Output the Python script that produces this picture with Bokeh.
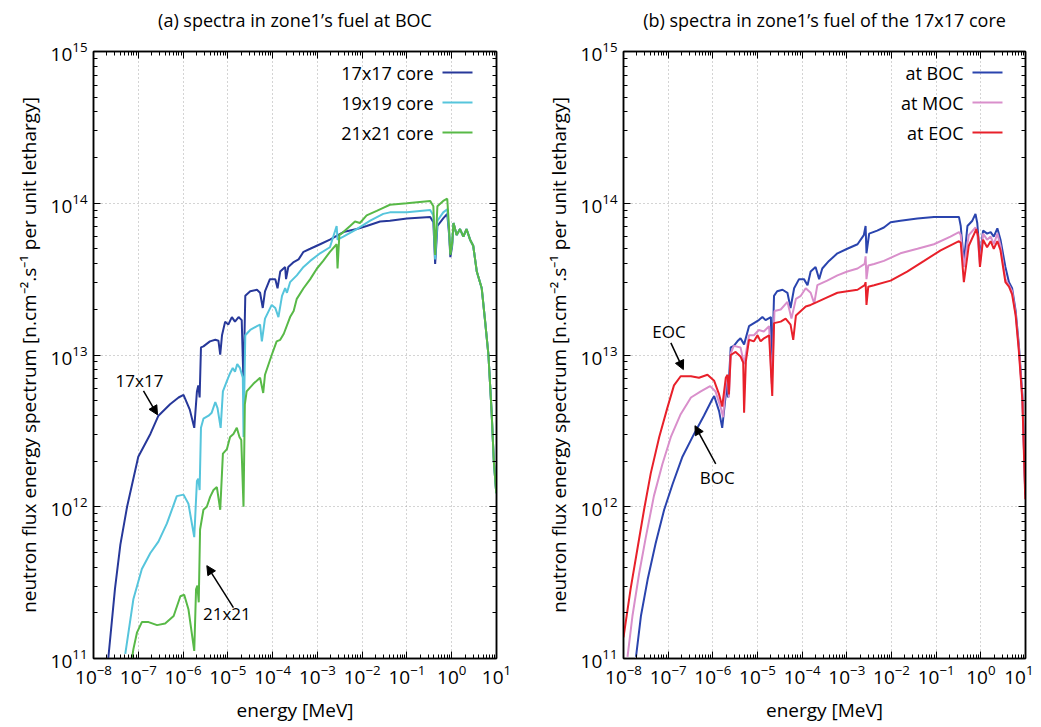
import numpy as np
from bokeh.plotting import figure
from bokeh.layouts import row
from bokeh.models import (Range1d, FixedTicker, LogAxis, LogTickFormatter,
                          CustomJSTickFormatter, Label, Arrow, NormalHead)
from bokeh.embed import file_html
from bokeh.resources import INLINE

# ---- data: (log10 energy [MeV], log10 flux) ----
core17_pts = [(-7.67, 11.00), (-7.52, 11.46), (-7.40, 11.75), (-7.25, 12.00), (-7.00, 12.33),
              (-6.73, 12.48), (-6.55, 12.60), (-6.29, 12.675), (-6.10, 12.72), (-5.99, 12.737),
              (-5.85, 12.64), (-5.75, 12.52), (-5.69, 12.76), (-5.66, 12.80), (-5.63, 12.72),
              (-5.60, 13.05), (-5.545, 13.057), (-5.40, 13.09), (-5.28, 13.10), (-5.21, 13.094),
              (-5.17, 13.002), (-5.13, 13.13), (-5.06, 13.22), (-4.99, 13.20), (-4.91, 13.25),
              (-4.84, 13.22), (-4.76, 13.25), (-4.69, 13.23), (-4.65, 12.81), (-4.61, 13.39),
              (-4.50, 13.42), (-4.35, 13.43), (-4.28, 13.41), (-4.22, 13.31), (-4.17, 13.42),
              (-4.06, 13.50), (-3.94, 13.50), (-3.89, 13.44), (-3.83, 13.55), (-3.72, 13.58),
              (-3.70, 13.50), (-3.65, 13.58), (-3.54, 13.61), (-3.42, 13.63), (-3.31, 13.68),
              (-3.16, 13.70), (-2.94, 13.73), (-2.72, 13.76), (-2.42, 13.81), (-2.12, 13.83),
              (-1.90, 13.85), (-1.60, 13.88), (-1.38, 13.885), (-1.00, 13.90), (-0.48, 13.91),
              (-0.41, 13.875), (-0.37, 13.60), (-0.32, 13.85), (-0.19, 13.90), (-0.10, 13.93),
              (-0.06, 13.80), (-0.03, 13.645), (0.01, 13.72)]

core19_pts = [(-7.29, 11.03), (-7.11, 11.39), (-6.92, 11.59), (-6.73, 11.695), (-6.55, 11.77),
              (-6.36, 11.89), (-6.14, 12.07), (-5.99, 12.08), (-5.88, 12.02), (-5.75, 11.80),
              (-5.69, 12.17), (-5.66, 12.185), (-5.63, 12.11), (-5.60, 12.52), (-5.545, 12.58),
              (-5.43, 12.60), (-5.36, 12.62), (-5.28, 12.69), (-5.23, 12.65), (-5.16, 12.52),
              (-5.11, 12.76), (-5.02, 12.83), (-4.95, 12.88), (-4.89, 12.915), (-4.84, 12.89),
              (-4.79, 12.94), (-4.73, 12.915), (-4.665, 12.85), (-4.65, 12.46), (-4.61, 13.13),
              (-4.50, 13.165), (-4.35, 13.19), (-4.28, 13.20), (-4.24, 13.09), (-4.17, 13.24),
              (-4.02, 13.33), (-3.94, 13.31), (-3.87, 13.25), (-3.79, 13.39), (-3.72, 13.44),
              (-3.68, 13.41), (-3.61, 13.48), (-3.46, 13.525), (-3.31, 13.58), (-3.16, 13.62),
              (-2.94, 13.67), (-2.72, 13.71), (-2.57, 13.85), (-2.55, 13.76), (-2.42, 13.78),
              (-2.12, 13.83), (-1.82, 13.885), (-1.53, 13.93), (-1.38, 13.94), (-1.00, 13.94),
              (-0.48, 13.956), (-0.41, 13.92), (-0.37, 13.63), (-0.32, 13.885), (-0.19, 13.94),
              (-0.10, 13.96), (-0.06, 13.82), (-0.03, 13.67), (0.01, 13.73)]

core21_pts = [(-7.14, 11.00), (-7.11, 11.06), (-7.03, 11.17), (-6.92, 11.24), (-6.77, 11.24),
              (-6.58, 11.22), (-6.40, 11.23), (-6.21, 11.28), (-6.06, 11.41), (-5.975, 11.42),
              (-5.88, 11.325), (-5.75, 11.05), (-5.71, 11.455), (-5.68, 11.48), (-5.65, 11.37),
              (-5.62, 11.85), (-5.545, 11.98), (-5.47, 12.00), (-5.395, 12.065), (-5.32, 12.11),
              (-5.245, 12.13), (-5.17, 11.98), (-5.11, 12.35), (-5.02, 12.38), (-4.95, 12.46),
              (-4.875, 12.48), (-4.80, 12.52), (-4.74, 12.46), (-4.70, 12.44), (-4.65, 12.00),
              (-4.62, 12.675), (-4.58, 12.76), (-4.43, 12.81), (-4.28, 12.85), (-4.21, 12.75),
              (-4.17, 12.87), (-4.02, 13.00), (-3.91, 13.09), (-3.83, 13.10), (-3.75, 13.14),
              (-3.61, 13.25), (-3.53, 13.29), (-3.46, 13.37), (-3.31, 13.44), (-3.16, 13.50),
              (-3.01, 13.57), (-2.87, 13.62), (-2.72, 13.68), (-2.57, 13.73), (-2.55, 13.57),
              (-2.51, 13.79), (-2.42, 13.81), (-2.27, 13.85), (-2.16, 13.88), (-2.05, 13.87),
              (-1.90, 13.92), (-1.675, 13.95), (-1.53, 13.97), (-1.38, 13.99), (-1.00, 14.00),
              (-0.48, 14.015), (-0.41, 13.98), (-0.37, 13.66), (-0.32, 13.98), (-0.19, 14.015),
              (-0.10, 14.03), (-0.06, 13.84), (-0.03, 13.66), (0.01, 13.74)]

fast_tail_a_pts = [(0.04, 13.87), (0.11, 13.79), (0.185, 13.83), (0.26, 13.78), (0.33, 13.83),
                   (0.41, 13.76), (0.48, 13.72), (0.56, 13.55), (0.67, 13.44), (0.74, 13.24),
                   (0.82, 13.00), (0.89, 12.63), (0.94, 12.30), (0.995, 12.09)]

boc_pts = [(-7.72, 11.01), (-7.61, 11.28), (-7.46, 11.52), (-7.28, 11.76), (-7.09, 11.98),
           (-6.90, 12.15), (-6.68, 12.33), (-6.42, 12.48), (-6.20, 12.60), (-6.01, 12.71),
           (-5.97, 12.73), (-5.86, 12.63), (-5.79, 12.52), (-5.71, 12.74), (-5.69, 12.85),
           (-5.66, 12.72), (-5.60, 13.05), (-5.53, 13.06), (-5.45, 13.09), (-5.38, 13.11),
           (-5.30, 13.07), (-5.19, 13.19), (-5.08, 13.21), (-4.97, 13.23), (-4.89, 13.25),
           (-4.82, 13.23), (-4.70, 13.25), (-4.68, 12.85), (-4.63, 13.39), (-4.56, 13.42),
           (-4.44, 13.43), (-4.33, 13.41), (-4.26, 13.31), (-4.18, 13.44), (-4.07, 13.50),
           (-3.96, 13.50), (-3.88, 13.46), (-3.81, 13.55), (-3.70, 13.58), (-3.62, 13.50),
           (-3.55, 13.57), (-3.40, 13.62), (-3.21, 13.67), (-2.99, 13.70), (-2.76, 13.73),
           (-2.62, 13.79), (-2.58, 13.85), (-2.56, 13.67), (-2.50, 13.80), (-2.32, 13.82),
           (-2.17, 13.84), (-2.02, 13.875), (-1.80, 13.885), (-1.42, 13.90), (-1.05, 13.91),
           (-0.49, 13.91), (-0.45, 13.85), (-0.38, 13.61), (-0.30, 13.85), (-0.19, 13.885),
           (-0.12, 13.93), (-0.08, 13.87), (-0.02, 13.645), (0.05, 13.82), (0.14, 13.80),
           (0.22, 13.81), (0.29, 13.78), (0.37, 13.835), (0.44, 13.76), (0.55, 13.58),
           (0.63, 13.48), (0.70, 13.44), (0.78, 13.29), (0.85, 13.07), (0.93, 12.74),
           (0.995, 12.08)]

moc_pts = [(-7.91, 11.01), (-7.80, 11.28), (-7.65, 11.56), (-7.50, 11.80), (-7.32, 12.07),
           (-7.13, 12.28), (-6.94, 12.46), (-6.72, 12.61), (-6.49, 12.72), (-6.27, 12.76),
           (-6.06, 12.795), (-5.94, 12.76), (-5.82, 12.65), (-5.77, 12.59), (-5.71, 12.81),
           (-5.67, 12.86), (-5.64, 12.72), (-5.60, 13.01), (-5.53, 13.06), (-5.38, 13.05),
           (-5.30, 12.94), (-5.19, 13.13), (-5.08, 13.13), (-4.97, 13.165), (-4.86, 13.155),
           (-4.74, 13.19), (-4.68, 12.81), (-4.62, 13.29), (-4.48, 13.30), (-4.33, 13.35),
           (-4.24, 13.24), (-4.14, 13.37), (-4.03, 13.39), (-3.92, 13.44), (-3.81, 13.41),
           (-3.73, 13.34), (-3.66, 13.46), (-3.44, 13.49), (-3.21, 13.525), (-2.99, 13.55),
           (-2.76, 13.57), (-2.60, 13.60), (-2.58, 13.65), (-2.56, 13.50), (-2.52, 13.59),
           (-2.39, 13.60), (-2.17, 13.62), (-1.80, 13.67), (-1.42, 13.70), (-1.05, 13.73),
           (-0.68, 13.78), (-0.49, 13.81), (-0.45, 13.79), (-0.38, 13.58), (-0.27, 13.79),
           (-0.12, 13.84), (-0.08, 13.80), (-0.02, 13.60), (0.05, 13.80), (0.14, 13.76),
           (0.22, 13.78), (0.29, 13.73), (0.37, 13.80), (0.44, 13.72), (0.55, 13.50),
           (0.63, 13.46), (0.70, 13.42), (0.78, 13.27), (0.85, 13.05), (0.93, 12.72),
           (0.995, 12.10)]

eoc_pts = [(-8.00, 11.14), (-7.84, 11.46), (-7.69, 11.72), (-7.54, 11.98), (-7.39, 12.22),
           (-7.20, 12.46), (-7.02, 12.65), (-6.87, 12.80), (-6.72, 12.86), (-6.49, 12.86),
           (-6.31, 12.85), (-6.12, 12.87), (-5.97, 12.83), (-5.86, 12.74), (-5.79, 12.66),
           (-5.71, 12.85), (-5.67, 12.87), (-5.64, 12.74), (-5.60, 13.00), (-5.49, 13.02),
           (-5.38, 12.99), (-5.32, 12.95), (-5.30, 12.62), (-5.26, 12.96), (-5.19, 13.10),
           (-5.08, 13.09), (-5.00, 13.13), (-4.93, 13.09), (-4.855, 13.11), (-4.74, 13.13),
           (-4.67, 12.73), (-4.63, 13.21), (-4.48, 13.22), (-4.37, 13.24), (-4.26, 13.20),
           (-4.20, 13.10), (-4.14, 13.26), (-4.03, 13.29), (-3.92, 13.32), (-3.81, 13.33),
           (-3.66, 13.35), (-3.44, 13.38), (-3.21, 13.41), (-2.99, 13.42), (-2.76, 13.43),
           (-2.60, 13.46), (-2.58, 13.48), (-2.56, 13.33), (-2.52, 13.45), (-2.39, 13.46),
           (-2.02, 13.49), (-1.65, 13.55), (-1.27, 13.62), (-0.90, 13.69), (-0.49, 13.75),
           (-0.45, 13.74), (-0.38, 13.48), (-0.27, 13.72), (-0.10, 13.83), (-0.06, 13.78),
           (-0.02, 13.58), (0.05, 13.76), (0.14, 13.71), (0.22, 13.75), (0.29, 13.70),
           (0.37, 13.75), (0.44, 13.69), (0.55, 13.48), (0.63, 13.45), (0.70, 13.40),
           (0.78, 13.26), (0.85, 13.03), (0.93, 12.70), (0.995, 12.05)]

panel_a_labels = ["17x17 core", "19x19 core", "21x21 core"]
panel_b_labels = ["at BOC", "at MOC", "at EOC"]
panel_a_colors = ["#27389a", "#56c5dc", "#58b947"]
panel_b_colors = ["#2a44ae", "#d98fcb", "#e8202a"]

# annotation text & arrows (log10 coords): text, text pos, arrow tail, arrow head
panel_a_notes = [("17x17", (-6.973, 12.832), (-6.884, 12.763), (-6.571, 12.606)),
                 ("21x21", (-5.022, 11.294), (-4.875, 11.335), (-5.469, 11.612))]
panel_b_notes = [("EOC", (-6.98, 13.155), (-6.94, 13.08), (-6.66, 12.904)),
                 ("BOC", (-5.90, 12.196), (-5.935, 12.283), (-6.40, 12.534))]

FONT = "Open Sans"
x_major = [10.0 ** k for k in range(-8, 2)]
x_minor = [m * 10.0 ** k for k in range(-8, 1) for m in range(2, 10)]
y_major = [10.0 ** k for k in range(11, 16)]
y_minor = [m * 10.0 ** k for k in range(11, 15) for m in range(2, 10)]

FRAME_H = 612  # plot-area height in px


def to_xy(pts):
    arr = np.array(pts)
    return 10.0 ** arr[:, 0], 10.0 ** arr[:, 1]


def style_axis(ax, labels=True):
    ax.axis_line_color = "black"
    ax.axis_line_width = 1.5
    ax.major_tick_in = 7
    ax.major_tick_out = 0
    ax.minor_tick_in = 4
    ax.minor_tick_out = 0
    ax.major_tick_line_color = "black"
    ax.minor_tick_line_color = "black"
    ax.major_label_text_font = FONT
    ax.major_label_text_font_size = "19px"
    ax.major_label_text_color = "black"
    ax.major_label_standoff = 6
    if not labels:
        ax.formatter = CustomJSTickFormatter(code="return ''")
        ax.major_label_text_font_size = "0px"
        ax.major_label_standoff = 0


def make_panel(title, series, labels, colors, notes, width, bl, br):
    p = figure(width=width, height=725, x_axis_type="log", y_axis_type="log",
               x_range=Range1d(1e-8, 10), y_range=Range1d(1e11, 1e15),
               output_backend="svg", toolbar_location=None,
               min_border_left=bl, min_border_right=br,
               min_border_top=51, min_border_bottom=62,
               background_fill_color="white", border_fill_color="white")
    p.outline_line_color = "black"
    p.outline_line_width = 1.5

    xt = FixedTicker(ticks=x_major, minor_ticks=x_minor)
    yt = FixedTicker(ticks=y_major, minor_ticks=y_minor)
    p.xaxis.ticker = xt
    p.yaxis.ticker = yt
    p.xaxis.formatter = LogTickFormatter()
    p.yaxis.formatter = LogTickFormatter()
    for ax in p.xaxis + p.yaxis:
        style_axis(ax)
    p.xaxis.axis_label = "energy [MeV]"
    p.yaxis.axis_label = "neutron flux energy spectrum [n.cm\u207b\u00b2.s\u207b\u00b9 per unit lethargy]"
    for ax in p.xaxis + p.yaxis:
        ax.axis_label_text_font = FONT
        ax.axis_label_text_font_size = "19px"
        ax.axis_label_text_font_style = "normal"
        ax.axis_label_text_color = "black"
    p.xaxis.axis_label_standoff = 10
    p.yaxis.axis_label_standoff = 6

    # mirrored top axis carries the panel title as its label; right axis mirrors ticks
    top = LogAxis(ticker=xt)
    right = LogAxis(ticker=yt)
    style_axis(top, labels=False)
    style_axis(right, labels=False)
    top.axis_label = title
    top.axis_label_text_font = FONT
    top.axis_label_text_font_size = "18px"
    top.axis_label_text_font_style = "normal"
    top.axis_label_text_color = "black"
    top.axis_label_standoff = 20
    p.add_layout(top, "above")
    p.add_layout(right, "right")

    p.grid.grid_line_color = "#a8a8a8"
    p.grid.grid_line_dash = "1 3"
    p.grid.grid_line_width = 1
    p.xgrid.ticker = xt
    p.ygrid.ticker = yt

    for pts, c in zip(series, colors):
        x, y = to_xy(pts)
        p.line(x, y, line_color=c, line_width=2)

    # legend: text on the left, line sample on the right (frame-relative screen units)
    for i, (lab, c) in enumerate(zip(labels, colors)):
        ys = FRAME_H - 26 - 30 * i
        p.add_layout(Label(x=340, y=ys, x_units="screen", y_units="screen", text=lab,
                           text_align="right", text_baseline="middle",
                           text_font=FONT, text_font_size="18px", text_color="black"))
        p.add_layout(Arrow(x_start=349, y_start=ys, x_end=379, y_end=ys,
                           start_units="screen", end_units="screen",
                           start=None, end=None, line_color=c, line_width=2))

    for txt, tpos, tail, head in notes:
        p.add_layout(Label(x=10 ** tpos[0], y=10 ** tpos[1], text=txt,
                           text_align="center", text_baseline="middle",
                           text_font=FONT, text_font_size="17px", text_color="black"))
        p.add_layout(Arrow(x_start=10 ** tail[0], y_start=10 ** tail[1],
                           x_end=10 ** head[0], y_end=10 ** head[1],
                           line_color="black", line_width=1.5,
                           end=NormalHead(size=9, fill_color="black", line_color="black")))
    return p


series_a = [core17_pts + fast_tail_a_pts, core19_pts + fast_tail_a_pts, core21_pts + fast_tail_a_pts]
series_b = [boc_pts, moc_pts, eoc_pts]

pa = make_panel("(a) spectra in zone1\u2019s fuel at BOC", series_a, panel_a_labels,
                panel_a_colors, panel_a_notes, width=528, bl=93, br=32)
pb = make_panel("(b) spectra in zone1\u2019s fuel of the 17x17 core", series_b, panel_b_labels,
                panel_b_colors, panel_b_notes, width=505, bl=95, br=8)

layout = row(pa, pb)
open("out.html", "w").write(file_html(layout, INLINE))
